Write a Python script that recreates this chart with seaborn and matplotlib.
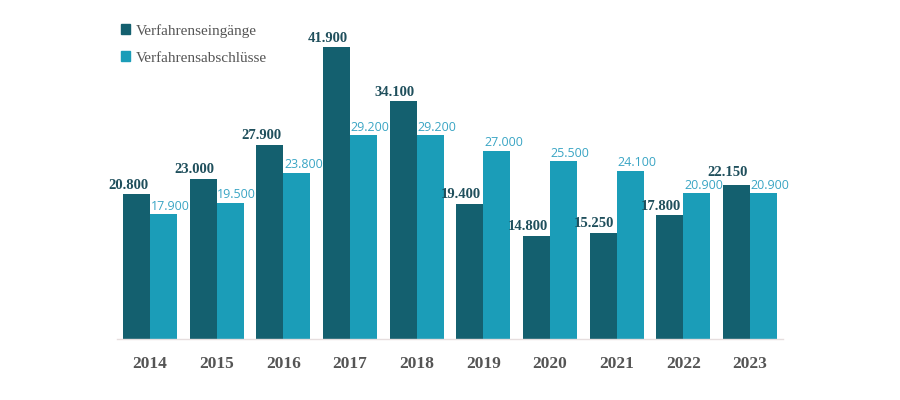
import pandas as pd
import seaborn as sns
import matplotlib.pyplot as plt
from matplotlib.patches import Patch

years = ["2014", "2015", "2016", "2017", "2018", "2019", "2020", "2021", "2022", "2023"]
eingaenge = [20800, 23000, 27900, 41900, 34100, 19400, 14800, 15250, 17800, 22150]
abschluesse = [17900, 19500, 23800, 29200, 29200, 27000, 25500, 24100, 20900, 20900]
series = ["Verfahrenseingänge", "Verfahrensabschlüsse"]
colors = ["#14606f", "#1b9db8"]

df = pd.DataFrame({
    "Jahr": years * 2,
    "Wert": eingaenge + abschluesse,
    "Reihe": [series[0]] * len(years) + [series[1]] * len(years),
})

sns.set_theme(style="white")

fig = plt.figure(figsize=(9, 4), dpi=100)
ax = fig.add_axes([116.7 / 900, 0.1525, 666.6 / 900, 0.8015])

sns.barplot(data=df, x="Jahr", y="Wert", hue="Reihe", palette=colors,
            width=0.81, gap=0, saturation=1, linewidth=0, ax=ax, legend=False)

ax.set_xlim(-0.5, 9.5)
ax.set_ylim(0, 46000)

def fmt(v):
    return f"{v:,}".replace(",", ".")

# Wertelabels; dunkles Label hochschieben, wenn es mit dem hellen Label links daneben kollidiert
for i, (bar, v) in enumerate(zip(ax.containers[0], eingaenge)):
    y = v + 350
    if i > 0:
        prev_top = abschluesse[i - 1] + 2000
        if y < prev_top and y + 1700 > abschluesse[i - 1] + 250:
            y = prev_top
    ax.text(bar.get_x() + bar.get_width() - 0.03, y, fmt(v),
            ha="right", va="bottom", fontsize=10.5, fontweight="bold",
            family="Liberation Serif", color="#1f4f5c")
for bar, v in zip(ax.containers[1], abschluesse):
    ax.text(bar.get_x() + 0.01, v + 250, fmt(v),
            ha="left", va="bottom", fontsize=9,
            family="Open Sans", color="#3aa5c4")

for s in ["top", "right", "left"]:
    ax.spines[s].set_visible(False)
ax.spines["bottom"].set_color("#e6dede")
ax.spines["bottom"].set_linewidth(1)
ax.set_yticks([])
ax.set_xlabel("")
ax.set_ylabel("")
ax.tick_params(axis="x", length=0, pad=12)
for lab in ax.get_xticklabels():
    lab.set_fontfamily("Liberation Serif")
    lab.set_fontweight("bold")
    lab.set_fontsize(12.5)
    lab.set_color("#555555")

handles = [Patch(color=c, label=s) for c, s in zip(colors, series)]
leg = fig.legend(handles=handles, loc="upper left", bbox_to_anchor=(107 / 900, 1 - 10 / 400),
                 frameon=False, handlelength=0.6, handleheight=0.6, handletextpad=0.4,
                 labelspacing=0.9, prop={"family": "Liberation Serif", "size": 11})
for t in leg.get_texts():
    t.set_color("#555555")

fig.savefig("out.png", dpi=100)
